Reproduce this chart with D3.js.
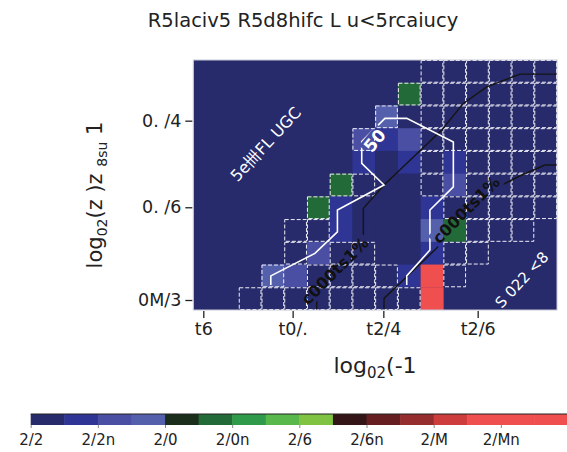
<!DOCTYPE html>
<html>
<head>
<meta charset="utf-8">
<script src="https://cdn.jsdelivr.net/npm/d3@7/dist/d3.min.js"></script>
<style>
  html, body { margin: 0; padding: 0; background: #fff; }
  svg text { font-family: "DejaVu Sans", sans-serif; }
</style>
</head>
<body>
<svg id="chart" width="567" height="452"></svg>
<script>
// ---- data -------------------------------------------------------------
// Binned cell values, top row first (16 columns); null = empty bin.
// The last row sits just below the visible range.
const N = 0.01, B = 0.035, M = 0.06, L = 0.085, G = 0.14, R = 0.36, _ = null;
const cellValues = [
  [_,_,_,_,_,_,_,_,_,_,N,N,N,N,N,N],
  [_,_,_,_,_,_,_,_,_,G,N,N,N,N,N,N],
  [_,_,_,_,_,_,_,_,L,N,N,N,N,N,N,N],
  [_,_,_,_,_,_,_,M,B,M,N,N,N,N,N,N],
  [_,_,_,_,_,_,_,B,N,B,N,B,N,N,N,N],
  [_,_,_,_,_,_,G,N,N,N,N,M,N,N,N,N],
  [_,_,_,_,_,G,B,N,N,N,B,N,N,N,N,N],
  [_,_,_,_,N,N,B,N,N,N,L,G,N,N,N,_],
  [_,_,_,_,N,M,N,N,N,N,B,N,N,_,_,_],
  [_,_,_,L,M,N,N,N,N,B,R,N,_,_,_,_],
  [_,_,N,N,N,N,N,N,N,N,R,_,_,_,_,_],
  [_,N,_,_,_,_,_,_,_,_,_,_,_,_,_,_]
];
// 1 = bin drawn with a dashed outline
const cellOutlined = [
  [0,0,0,0,0,0,0,0,0,0,1,1,1,1,1,1],
  [0,0,0,0,0,0,0,0,0,1,1,1,1,1,1,1],
  [0,0,0,0,0,0,0,0,1,0,1,1,1,1,1,1],
  [0,0,0,0,0,0,0,1,0,0,1,1,1,1,1,1],
  [0,0,0,0,0,0,0,0,0,0,1,0,1,1,1,1],
  [0,0,0,0,0,0,1,1,0,0,1,0,1,1,1,1],
  [0,0,0,0,0,1,0,0,0,0,0,1,1,1,1,1],
  [0,0,0,0,1,1,0,0,0,0,0,0,1,1,1,0],
  [0,0,0,0,1,0,1,1,0,0,0,1,1,0,0,0],
  [0,0,0,1,0,1,1,1,1,0,0,1,0,0,0,0],
  [0,0,1,1,1,1,1,1,1,1,0,0,0,0,0,0],
  [0,1,0,0,0,0,0,0,0,0,0,0,0,0,0,0]
];

// Colour bins (step 0.025) and their colours
const binEdges = [0.025,0.05,0.075,0.1,0.125,0.15,0.175,0.2,0.225,0.25,0.275,0.3,0.325];
const binColors = ["#272a6b","#2f3594","#4a4fa3","#5560ad","#1b2e1c","#226a37","#2e9a4a",
                   "#58b84c","#80c342","#331518","#661e21","#952d2f","#cd3d3b","#f04f4f"];
const colorbarTicks = [0,0.05,0.1,0.15,0.2,0.25,0.3,0.35];
const colorbarLabels = ["2/2","2/2n","2/0","2/0n","2/6","2/6n","2/M","2/Mn"];

// Axes (grid units)
const xTicks = [0.44, 4.37, 8.36, 12.51];
const xTickLabels = ["t6","t0/.","t2/4","t2/6"];
const yTicks = [0.44, 4.52, 8.33];
const yTickLabels = ["0M/3","0. /6","0. /4"];

// Contour lines (grid units)
const contourWhite = [[3.41,1.10],[3.41,1.50],[5.35,2.49],[6.34,3.44],[6.34,4.40],[8.39,5.50],
  [7.41,6.45],[7.41,7.41],[8.43,8.43],[9.39,8.43],[11.44,7.39],[11.44,5.42],[10.41,4.40],
  [10.41,2.64],[9.39,1.50],[9.39,1.10]];
const contourBlackA = [[5.43,-0.2],[5.43,0.51],[7.48,3.0],[7.48,4.47],[8.39,5.50],[10.93,7.92],
  [11.88,9.09],[12.91,9.82],[14.37,10.38],[16.2,10.38]];
const contourBlackB = [[8.39,-0.2],[8.39,0.51],[11.0,3.0],[13.49,5.46],[14.45,5.94],[15.47,6.38],[16.2,6.38]];

// Labels placed along the contours: [x, y, angle, text, colour, size]
const contourLabels = [
  [7.98, 7.45, -50, "50", "#ffffff", 17],
  [6.23, 1.72, -45, "c000ts1%", "#111111", 16],
  [12.0, 4.40, -45, "c000ts1%", "#111111", 16]
];
// Region annotations: [x, y, angle, text, size]
const regionNotes = [
  [3.19, 7.3, -47, "5e卌FL UGC", 16],
  [14.46, 1.32, -47, "S 022 <8", 15]
];

// ---- drawing ----------------------------------------------------------
const nCols = 16, nRows = 11;
const svg = d3.select("#chart");
const x = d3.scaleLinear().domain([0, nCols]).range([193.3, 557]);
const y = d3.scaleLinear().domain([0, nRows]).range([310, 60]);
const color = d3.scaleThreshold().domain(binEdges).range(binColors);

svg.append("text").attr("x", 303).attr("y", 27).attr("text-anchor", "middle")
  .attr("font-size", 19.5).attr("fill", "#222").text("R5laciv5 R5d8hifc L u<5rcaiucy");

const defs = svg.append("defs");
defs.append("clipPath").attr("id", "plotClip").append("rect")
  .attr("x", x(0)).attr("y", y(nRows)).attr("width", x(nCols) - x(0)).attr("height", y(0) - y(nRows));

const plot = svg.append("g").attr("clip-path", "url(#plotClip)");
plot.append("rect").attr("x", x(0)).attr("y", y(nRows))
  .attr("width", x(nCols) - x(0)).attr("height", y(0) - y(nRows)).attr("fill", color(0));

const cells = [];
cellValues.forEach((row, r) => row.forEach((v, c) => {
  if (v !== null) cells.push({ c, top: nRows - r, v, outlined: cellOutlined[r][c] === 1 });
}));

plot.append("g").selectAll("rect").data(cells).join("rect")
  .attr("x", d => x(d.c)).attr("y", d => y(d.top))
  .attr("width", x(1) - x(0) + 0.3).attr("height", y(0) - y(1) + 0.3)
  .attr("fill", d => color(d.v));

plot.append("g").selectAll("rect").data(cells.filter(d => d.outlined)).join("rect")
  .attr("x", d => x(d.c) + 0.5).attr("y", d => y(d.top) + 0.5)
  .attr("width", x(1) - x(0) - 1).attr("height", y(0) - y(1) - 1)
  .attr("fill", "none").attr("stroke", "#f0f0f6").attr("stroke-width", 1)
  .attr("stroke-dasharray", "4,2");

// Contour lines, with gaps under their labels
const mask = defs.append("mask").attr("id", "labelGaps").attr("maskUnits", "userSpaceOnUse");
mask.append("rect").attr("x", 0).attr("y", 0).attr("width", 567).attr("height", 452).attr("fill", "#fff");

const line = d3.line().x(d => x(d[0])).y(d => y(d[1]));
const lines = plot.append("g").attr("mask", "url(#labelGaps)");
lines.append("path").attr("d", line(contourBlackA)).attr("fill", "none").attr("stroke", "#151515").attr("stroke-width", 1.4);
lines.append("path").attr("d", line(contourBlackB)).attr("fill", "none").attr("stroke", "#151515").attr("stroke-width", 1.4);
lines.append("path").attr("d", line(contourWhite)).attr("fill", "none").attr("stroke", "#ffffff").attr("stroke-width", 1.6);

const labelG = plot.append("g");
contourLabels.forEach(([lx, ly, ang, t, col, fs]) => {
  const txt = labelG.append("text")
    .attr("transform", `translate(${x(lx)},${y(ly)}) rotate(${ang})`)
    .attr("text-anchor", "middle").attr("dominant-baseline", "central")
    .attr("font-size", fs).attr("font-weight", "bold").attr("fill", col).text(t);
  const bb = txt.node().getBBox();
  mask.append("rect")
    .attr("transform", `translate(${x(lx)},${y(ly)}) rotate(${ang})`)
    .attr("x", bb.x - 2).attr("y", bb.y + 1).attr("width", bb.width + 4).attr("height", bb.height - 2)
    .attr("fill", "#000");
});

regionNotes.forEach(([lx, ly, ang, t, fs]) => {
  labelG.append("text")
    .attr("transform", `translate(${x(lx)},${y(ly)}) rotate(${ang})`)
    .attr("text-anchor", "middle").attr("dominant-baseline", "central")
    .attr("font-size", fs).attr("fill", "#ffffff").text(t);
});

// Frame
svg.append("rect").attr("x", x(0)).attr("y", y(nRows))
  .attr("width", x(nCols) - x(0)).attr("height", y(0) - y(nRows))
  .attr("fill", "none").attr("stroke", "#c8c8d8").attr("stroke-width", 1);

// Axes
const xAxis = d3.axisBottom(x).tickValues(xTicks).tickFormat((d, i) => xTickLabels[i])
  .tickSize(7).tickPadding(5);
const gx = svg.append("g").attr("transform", `translate(0,${y(0) + 1})`).call(xAxis);
gx.select(".domain").remove();
gx.selectAll("line").attr("stroke", "#222").attr("stroke-width", 1.3);
gx.selectAll("text").attr("font-size", 17.5).attr("fill", "#222");

const yAxis = d3.axisLeft(y).tickValues(yTicks).tickFormat((d, i) => yTickLabels[i])
  .tickSize(7).tickPadding(4);
const gy = svg.append("g").attr("transform", `translate(${x(0) - 1},0)`).call(yAxis);
gy.select(".domain").remove();
gy.selectAll("line").attr("stroke", "#222").attr("stroke-width", 1.3);
gy.selectAll("text").attr("font-size", 17.5).attr("fill", "#222");

// Axis titles
const xt = svg.append("text").attr("x", 375).attr("y", 373).attr("text-anchor", "middle")
  .attr("font-size", 22).attr("fill", "#222");
xt.append("tspan").text("log");
xt.append("tspan").attr("font-size", 15).attr("dy", 5).text("02");
xt.append("tspan").attr("dy", -5).text("(-1");

const yt = svg.append("text").attr("transform", "translate(102,195) rotate(-90)")
  .attr("text-anchor", "middle").attr("font-size", 21).attr("fill", "#222");
yt.append("tspan").text("log");
yt.append("tspan").attr("font-size", 14).attr("dy", 5).text("02");
yt.append("tspan").attr("dy", -5).text("(z )z ");
yt.append("tspan").attr("font-size", 14).attr("dy", 5).text("8su");
yt.append("tspan").attr("dy", -5).text(" 1");

// Colour bar
const cb = d3.scaleLinear().domain([0, 0.4]).range([30.7, 568]);
const cbY = 414, cbH = 11;
const cbBins = d3.range(16).map(i => i * 0.025);
svg.append("g").selectAll("rect").data(cbBins).join("rect")
  .attr("x", d => cb(d)).attr("y", cbY).attr("width", cb(0.025) - cb(0) + 0.5).attr("height", cbH)
  .attr("fill", d => color(d + 0.0125));
svg.append("line").attr("x1", cb(0)).attr("x2", 567).attr("y1", cbY).attr("y2", cbY)
  .attr("stroke", "#222").attr("stroke-width", 1);
const cbAxis = d3.axisBottom(cb).tickValues(colorbarTicks).tickFormat((d, i) => colorbarLabels[i])
  .tickSize(3).tickPadding(6);
const gcb = svg.append("g").attr("transform", `translate(0,${cbY + cbH})`).call(cbAxis);
gcb.select(".domain").remove();
gcb.selectAll("line").attr("stroke", "#888");
gcb.selectAll("text").attr("font-size", 15).attr("fill", "#222");
</script>
</body>
</html>
